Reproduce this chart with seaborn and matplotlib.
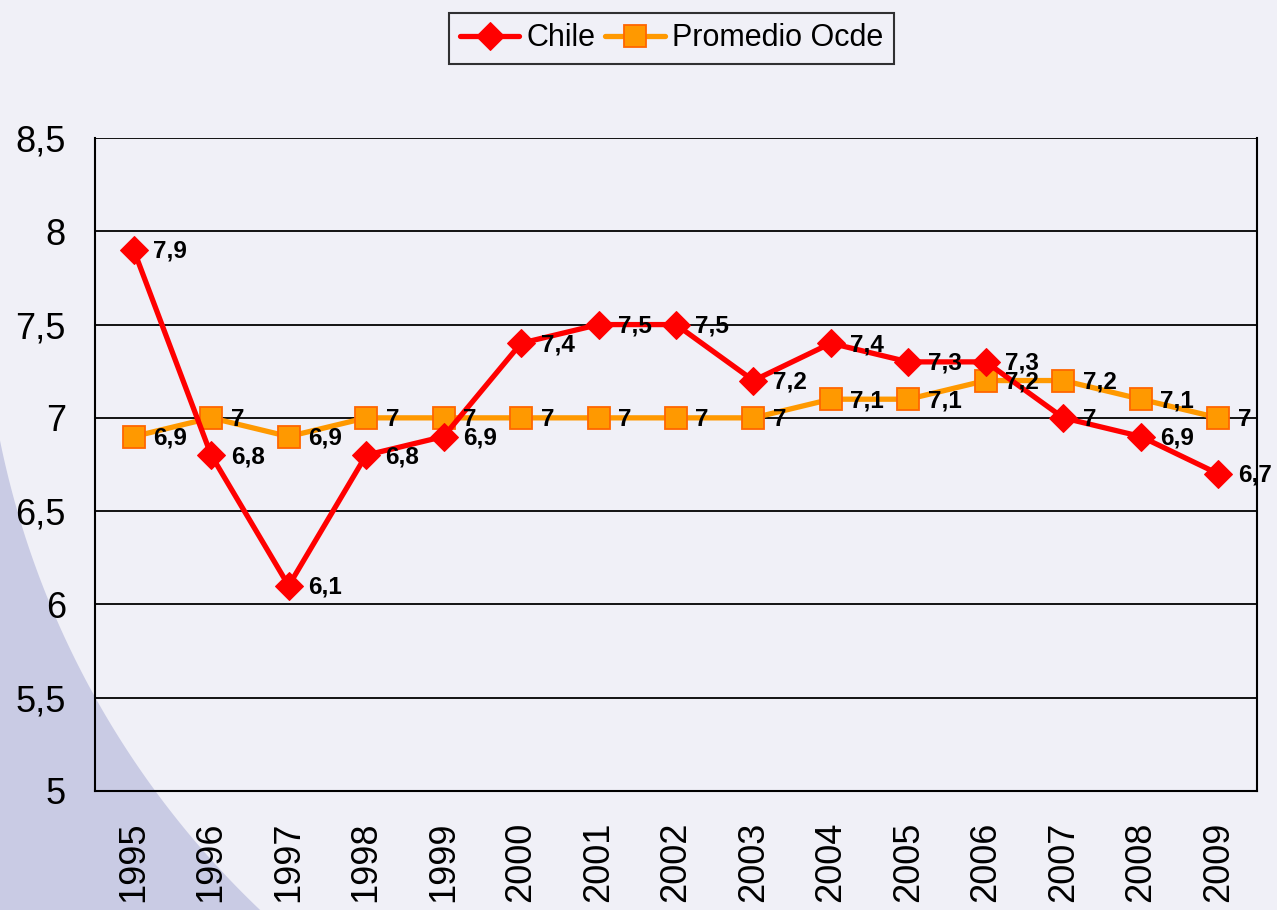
import matplotlib.pyplot as plt
import numpy as np
import pandas as pd
import seaborn as sns
from matplotlib.patches import Polygon
from matplotlib.ticker import FixedLocator

years = ['1995', '1996', '1997', '1998', '1999', '2000', '2001', '2002',
         '2003', '2004', '2005', '2006', '2007', '2008', '2009']
chile = [7.9, 6.8, 6.1, 6.8, 6.9, 7.4, 7.5, 7.5, 7.2, 7.4, 7.3, 7.3, 7.0, 6.9, 6.7]
ocde = [6.9, 7.0, 6.9, 7.0, 7.0, 7.0, 7.0, 7.0, 7.0, 7.1, 7.1, 7.2, 7.2, 7.1, 7.0]
y_ticks = [5, 5.5, 6, 6.5, 7, 7.5, 8, 8.5]

bg = '#F0F0F7'
shade = '#C9CBE4'


def fmt(v):
    s = f'{v:.1f}'.replace('.', ',')
    return s[:-2] if s.endswith(',0') else s


sns.set_style('white')
plt.rcParams['font.family'] = ['Liberation Sans', 'DejaVu Sans']
plt.rcParams['text.color'] = 'black'
plt.rcParams['xtick.color'] = 'black'
plt.rcParams['ytick.color'] = 'black'

fig = plt.figure(figsize=(12.77, 9.10), dpi=100, facecolor=bg)

# decorative arc in the lower left corner (figure pixels, y measured from bottom)
cx, cy, r = 876.0, 910 - 262.0, 894.0
ys = np.linspace(910 - 440, 0, 80)
xs = cx - np.sqrt(np.clip(r ** 2 - (ys - cy) ** 2, 0, None))
pts = np.column_stack([np.r_[0, xs, 0], np.r_[910 - 440, ys, 0]])
pts[:, 0] /= 1277
pts[:, 1] /= 910
fig.patches.append(Polygon(pts, closed=True, facecolor=shade, edgecolor='none',
                           transform=fig.transFigure, zorder=-5))

ax = fig.add_axes([95 / 1277, 1 - 791 / 910, (1257 - 95) / 1277, (791 - 138) / 910])
ax.set_facecolor('none')
ax.set_zorder(2)

x = np.arange(len(years))
df = pd.DataFrame({'x': x, 'Chile': chile, 'Promedio Ocde': ocde})

sns.lineplot(data=df, x='x', y='Chile', ax=ax, color='#FF0000', lw=3.8,
             marker='D', markersize=14, markeredgecolor='#FF0000',
             label='Chile', zorder=4)
sns.lineplot(data=df, x='x', y='Promedio Ocde', ax=ax, color='#FF9900', lw=3.8,
             marker='s', markersize=16, markeredgecolor='#FF6600', markeredgewidth=1.3,
             label='Promedio Ocde', zorder=3)

for xi, v in zip(x, chile):
    ax.annotate(fmt(v), (xi, v), xytext=(14, -1), textcoords='offset points',
                ha='left', va='center', fontsize=17.5, fontweight='bold', zorder=5)
for xi, v in zip(x, ocde):
    ax.annotate(fmt(v), (xi, v), xytext=(14, -1), textcoords='offset points',
                ha='left', va='center', fontsize=17.5, fontweight='bold', zorder=5)

ax.set_xlim(-0.5, len(years) - 0.5)
ax.set_ylim(5, 8.5)
ax.set_yticks(y_ticks)
ax.set_yticklabels([fmt(v) for v in y_ticks], fontsize=26)
ax.set_xticks(x)
ax.set_xticklabels(years, rotation=90, fontsize=26)
ax.xaxis.set_minor_locator(FixedLocator(np.arange(-0.5, len(years), 1)))
ax.tick_params(axis='x', which='major', length=0, pad=22)
ax.tick_params(axis='x', which='minor', length=12, width=1.5, color='black', direction='out')
ax.tick_params(axis='y', length=12, width=1.5, color='black', direction='out', pad=9)
ax.grid(axis='y', color='black', lw=1.3)
ax.set_axisbelow(True)
for side in ['left', 'bottom', 'right']:
    ax.spines[side].set_color('black')
    ax.spines[side].set_linewidth(1.5)
ax.spines['top'].set_visible(False)
ax.set_xlabel('')
ax.set_ylabel('')

ax.get_legend().remove()
handles, labels = ax.get_legend_handles_labels()
leg = fig.legend(handles, labels, loc='upper center', bbox_to_anchor=(0.526, 0.986),
                 ncol=2, fontsize=22, frameon=True, fancybox=False, edgecolor='black',
                 facecolor=bg, handlelength=1.95, columnspacing=0.3, handletextpad=0.25,
                 borderpad=0.35, borderaxespad=0)
leg.get_frame().set_linewidth(1.5)

plt.savefig('out.png', dpi=100, facecolor=bg)
plt.close('all')
